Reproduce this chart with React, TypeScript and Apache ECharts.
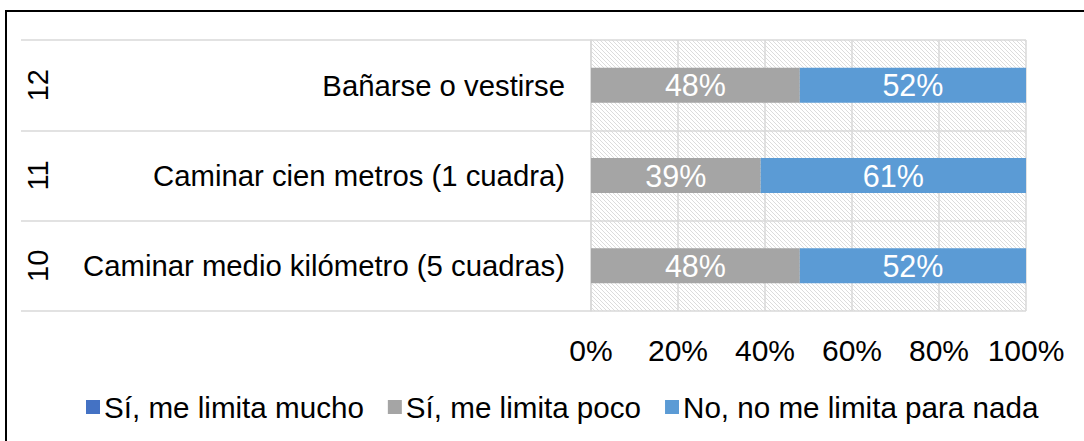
import React, { useEffect, useRef } from "react";
import * as echarts from "echarts";

const categories = [
  "Caminar medio kilómetro (5 cuadras)",
  "Caminar cien metros (1 cuadra)",
  "Bañarse o vestirse",
];
const itemNumbers = ["10", "11", "12"];
const seriesNames = [
  "Sí, me limita mucho",
  "Sí, me limita poco",
  "No, no me limita para nada",
];
const muchoValues = [0, 0, 0];
const pocoValues = [48, 39, 48];
const nadaValues = [52, 61, 52];
const xTicks = [0, 20, 40, 60, 80, 100];

const FONT = "'Liberation Sans', Arial, sans-serif";

function makeHatch(): HTMLCanvasElement {
  const c = document.createElement("canvas");
  c.width = 4;
  c.height = 4;
  const ctx = c.getContext("2d")!;
  ctx.fillStyle = "#ffffff";
  ctx.fillRect(0, 0, 4, 4);
  ctx.fillStyle = "#dcdcdc";
  for (let i = 0; i < 4; i++) ctx.fillRect(i, i, 1, 1);
  return c;
}

export default function App() {
  const ref = useRef<HTMLDivElement>(null);
  useEffect(() => {
    if (!ref.current) return;
    const chart = echarts.init(ref.current, null, { renderer: "svg" });
    const labelFmt = (p: any) => (p.value ? p.value + "%" : "");
    const barLabel = {
      show: true,
      position: "inside" as const,
      color: "#ffffff",
      fontSize: 30.5,
      fontFamily: FONT,
      formatter: labelFmt,
    };
    chart.setOption({
      animation: false,
      backgroundColor: "#ffffff",
      textStyle: { fontFamily: FONT },
      graphic: [
        {
          type: "rect",
          shape: { x: 6, y: 11, width: 1200, height: 600 },
          style: { fill: "none", stroke: "#000000", lineWidth: 2 },
          z: 100,
        },
      ],
      legend: {
        bottom: 14,
        left: 81,
        itemWidth: 14,
        itemHeight: 14,
        itemGap: 24,
        icon: "rect",
        textStyle: { fontSize: 29.6, color: "#000000", fontFamily: FONT, padding: [0, 0, 0, -1] },
        data: seriesNames,
      },
      grid: {
        left: 591,
        right: 58,
        top: 40,
        bottom: 130,
        show: true,
        borderWidth: 0,
        backgroundColor: { image: makeHatch(), repeat: "repeat" },
      },
      xAxis: {
        type: "value",
        min: 0,
        max: 100,
        interval: 20,
        axisLine: { show: false },
        axisTick: { show: false },
        axisLabel: {
          fontSize: 30,
          color: "#000000",
          margin: 24,
          fontFamily: FONT,
          formatter: (v: number) => (xTicks.includes(v) ? v + "%" : ""),
        },
        splitLine: { show: true, lineStyle: { color: "#d9d9d9", width: 1.5 } },
      },
      yAxis: [
        {
          type: "category",
          data: categories,
          axisLine: { show: true, lineStyle: { color: "#d9d9d9", width: 1.5 } },
          axisTick: {
            show: true,
            length: 570,
            lineStyle: { color: "#d9d9d9", width: 1.5 },
          },
          axisLabel: {
            fontSize: 29.3,
            color: "#000000",
            margin: 26,
            fontFamily: FONT,
          },
          splitLine: { show: true, lineStyle: { color: "#d9d9d9", width: 1.5 } },
        },
        {
          type: "category",
          data: itemNumbers,
          position: "left",
          offset: 539,
          axisLine: { show: false },
          axisTick: { show: false },
          splitLine: { show: false },
          axisLabel: {
            rotate: 90,
            margin: 0,
            fontSize: 29,
            color: "#000000",
            fontFamily: FONT,
          },
        },
      ],
      series: [
        {
          name: seriesNames[0],
          type: "bar",
          stack: "total",
          barWidth: 35,
          data: muchoValues,
          itemStyle: { color: "#4472C4" },
          label: barLabel,
        },
        {
          name: seriesNames[1],
          type: "bar",
          stack: "total",
          barWidth: 35,
          data: pocoValues,
          itemStyle: { color: "#A5A5A5" },
          label: barLabel,
        },
        {
          name: seriesNames[2],
          type: "bar",
          stack: "total",
          barWidth: 35,
          data: nadaValues,
          itemStyle: { color: "#5B9BD5" },
          label: barLabel,
        },
      ],
    });
    return () => chart.dispose();
  }, []);
  return (
    <div
      ref={ref}
      style={{ position: "absolute", left: 0, top: 0, width: 1084, height: 441 }}
    />
  );
}
